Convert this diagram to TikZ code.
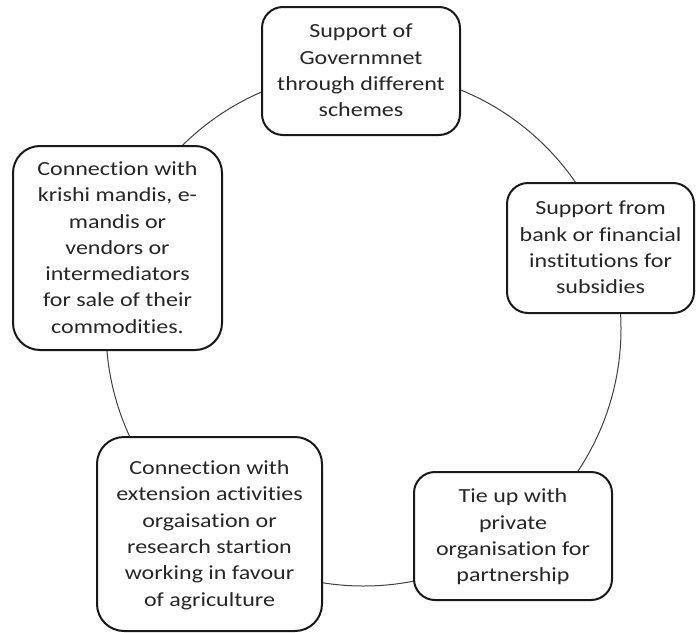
\documentclass[tikz,border=0pt]{standalone}
\usepackage{fontspec}
\setmainfont{Carlito}[FakeStretch=1.2, Ligatures=NoCommon]
\newcommand\lstrut{\rule[-6.8pt]{0pt}{26.3pt}}
\begin{document}
\begin{tikzpicture}[x=1pt,y=-1pt,
  box/.style={draw=black!90, line width=2pt, fill=white, rounded corners=21pt,
    inner sep=0pt, align=center, text=black!85,
    font=\fontsize{20pt}{26.3pt}\selectfont},
  ring/.style={draw=black!75, line width=1pt}]
\useasboundingbox (0,0) rectangle (696,632);
\coordinate (c) at (363.5,328.5);
\draw[ring] (c) circle[radius=257.5pt];
\node[box, minimum width=198pt, minimum height=128pt] (gov) at (361,71)
  {\lstrut Support of\\Governmnet\\through different\\schemes\lstrut};
\node[box, minimum width=187pt, minimum height=130pt] (bank) at (600.5,248)
  {\lstrut Support from\\bank or financial\\institutions for\\subsidies\lstrut};
\node[box, minimum width=198pt, minimum height=128pt] (priv) at (513,536)
  {\lstrut Tie up with\\private\\organisation for\\partnership\lstrut};
\node[box, rounded corners=27pt, minimum width=225pt, minimum height=194pt] (ext) at (209.5,534)
  {\lstrut Connection with\\extension activities\\orgaisation or\\research startion\\working in favour\\of agriculture\lstrut};
\node[box, rounded corners=27pt, minimum width=209pt, minimum height=204pt] (mandi) at (117.5,248)
  {\lstrut Connection with\\krishi mandis, e-\\mandis or\\vendors or\\intermediators\\for sale of their\\commodities.\lstrut};
\end{tikzpicture}
\end{document}
